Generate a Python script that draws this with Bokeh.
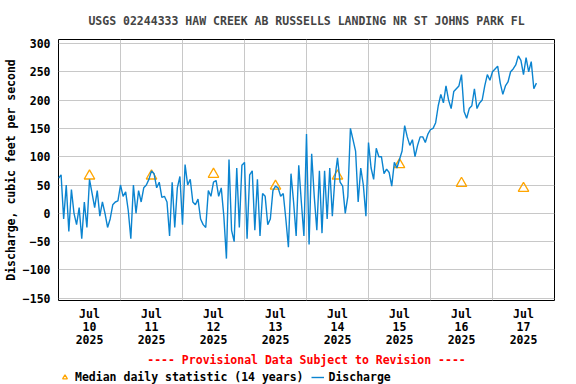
import pandas as pd
from bokeh.plotting import figure
from bokeh.layouts import column
from bokeh.models import Range1d, FixedTicker, DatetimeTickFormatter, Legend, LegendItem
from bokeh.embed import file_html
from bokeh.resources import INLINE

# ---- data (hourly discharge, cfs) ----
start_time = "2025-07-10 00:00"
discharge = [
    62, 68, -10, 50, -32, 42, 0, -20, 10, -45, 20, -25, 60, 35, 10, 40,
    -5, 20, 0, -25, -10, 15, 20, 22, 50, 30, 38, 5, -45, 50, 0, 40,
    20, 45, 50, 60, 75, 70, 45, 55, 28, 30, 20, -40, 55, -25, 45, 65,
    -20, 86, 50, 60, 20, 15, 25, -10, -20, -25, 40, 30, 55, 58, 30, 45,
    -5, -80, 95, -30, -50, 80, -25, 85, 90, -45, 68, 75, -30, 60, -40, 35,
    30, -20, -10, 40, 48, 45, 30, 35, -10, -60, 70, 20, -40, 85, 20,
    -40, 140, -55, 105, 30, -30, 75, -35, 75, -10, 80, -5, 62, 98, 55, 48,
    0, 30, 150, 130, 110, 20, 80, 50, -5, 125, 80, 60, 115, 100, 100,
    70, 78, 72, 48, 90, 80, 95, 110, 155, 135, 120, 130, 100, 120, 135, 135,
    125, 140, 148, 150, 160, 190, 210, 195, 225, 200, 185, 215, 220, 225, 245,
    180, 168, 185, 190, 220, 185, 195, 200, 225, 245, 235, 250, 255, 260, 230,
    210, 225, 232, 250, 255, 262, 278, 270, 245, 275, 250, 268, 220, 230,
]
median_times = ["2025-07-10 12:00", "2025-07-11 12:00", "2025-07-12 12:00", "2025-07-13 12:00",
                "2025-07-14 12:00", "2025-07-15 12:00", "2025-07-16 12:00", "2025-07-17 12:00"]
median_cfs = [66, 66, 69, 48, 66, 86, 53, 44]
grid_days = ["2025-07-11", "2025-07-12", "2025-07-13", "2025-07-14",
             "2025-07-15", "2025-07-16", "2025-07-17"]
x_start, x_end = "2025-07-10", "2025-07-18"
y_ticks = [-150, -100, -50, 0, 50, 100, 150, 200, 250, 300]
title_text = "USGS 02244333 HAW CREEK AB RUSSELLS LANDING NR ST JOHNS PARK FL"
y_label = "Discharge, cubic feet per second"
provisional = "---- Provisional Data Subject to Revision ----"
legend_labels = ["Median daily statistic (14 years)", "Discharge"]

FONT = "DejaVu Sans Mono"
FS = "11.5px"
BLUE = "#0b84d0"
ORANGE = "#ffa500"

def ms(t):
    return pd.Timestamp(t).value // 10**6

times = pd.date_range(start_time, periods=len(discharge), freq="h")
mtimes = pd.to_datetime(median_times)

p = figure(frame_width=496, frame_height=261, x_axis_type="datetime", output_backend="svg",
           toolbar_location=None,
           x_range=Range1d(ms(x_start), ms(x_end)), y_range=Range1d(-154, 307),
           min_border_left=58, min_border_right=22, min_border_top=39, min_border_bottom=0)

p.title.text = title_text
p.title.align = "center"
p.title.text_font = FONT
p.title.text_font_size = FS
p.title.text_font_style = "bold"
p.title.standoff = 23

tri_style = dict(marker="triangle", size=10.5, fill_color=None, line_color=ORANGE, line_width=1.3)
line_style = dict(line_color=BLUE, line_width=1.4)
p.scatter(mtimes, median_cfs, **tri_style)
p.line(times, discharge, **line_style)

p.outline_line_color = "black"
p.outline_line_width = 1
p.outline_line_alpha = 1

# axes
p.xaxis.ticker = FixedTicker(ticks=[ms(t) for t in median_times])
fmt = "%b\n%d\n%Y"
p.xaxis.formatter = DatetimeTickFormatter(milliseconds=fmt, seconds=fmt, minsec=fmt, minutes=fmt,
                                          hourmin=fmt, hours=fmt, days=fmt, months=fmt, years=fmt)
p.yaxis.ticker = FixedTicker(ticks=y_ticks)
for ax in (p.xaxis, p.yaxis):
    ax.major_tick_out = 0
    ax.major_tick_in = 0
    ax.minor_tick_out = 0
    ax.minor_tick_in = 0
    ax.axis_line_color = None
    ax.major_label_text_font = FONT
    ax.major_label_text_font_size = FS
    ax.major_label_text_font_style = "bold"
    ax.major_label_text_color = "black"
    ax.axis_label_text_font = FONT
    ax.axis_label_text_font_size = FS
    ax.axis_label_text_font_style = "bold"

p.xaxis.major_label_standoff = 6
p.xaxis.major_label_text_line_height = 0.96
p.xaxis.axis_label = provisional
p.xaxis.axis_label_text_color = "#ff0000"
p.xaxis.axis_label_standoff = 3

p.yaxis.major_label_standoff = 8
p.yaxis.axis_label = y_label
p.yaxis.axis_label_text_color = "black"
p.yaxis.axis_label_standoff = 2

# grid
p.xgrid.ticker = FixedTicker(ticks=[ms(t) for t in grid_days])
for g in (p.xgrid, p.ygrid):
    g.grid_line_color = "#c8c8c8"
    g.grid_line_width = 1
    g.grid_line_alpha = 1

# legend strip below the chart (same side borders so its frame lines up with the chart)
leg = figure(width=576, height=14, output_backend="svg", toolbar_location=None,
             x_range=Range1d(0, 1), y_range=Range1d(0, 1),
             x_axis_location=None, y_axis_location=None,
             min_border_left=58, min_border_right=22,
             min_border_top=0, min_border_bottom=0)
leg.outline_line_color = None
leg.xgrid.visible = False
leg.ygrid.visible = False
# same series drawn outside this strip's (0..1) view: only their legend glyphs show
r_tri = leg.scatter(mtimes, median_cfs, **tri_style)
r_line = leg.line(times, discharge, **line_style)
legend = Legend(items=[LegendItem(label=legend_labels[0], renderers=[r_tri]),
                       LegendItem(label=legend_labels[1], renderers=[r_line])],
                orientation="horizontal", location=(0, 0),
                label_text_font=FONT, label_text_font_size=FS, label_text_font_style="bold",
                label_text_color="black",
                glyph_width=13, glyph_height=12, label_height=12, label_standoff=4,
                spacing=8, padding=0, margin=0,
                background_fill_alpha=0, border_line_color=None)
leg.add_layout(legend, "center")

layout = column(p, leg, spacing=0)
open("out.html", "w").write(file_html(layout, INLINE))
